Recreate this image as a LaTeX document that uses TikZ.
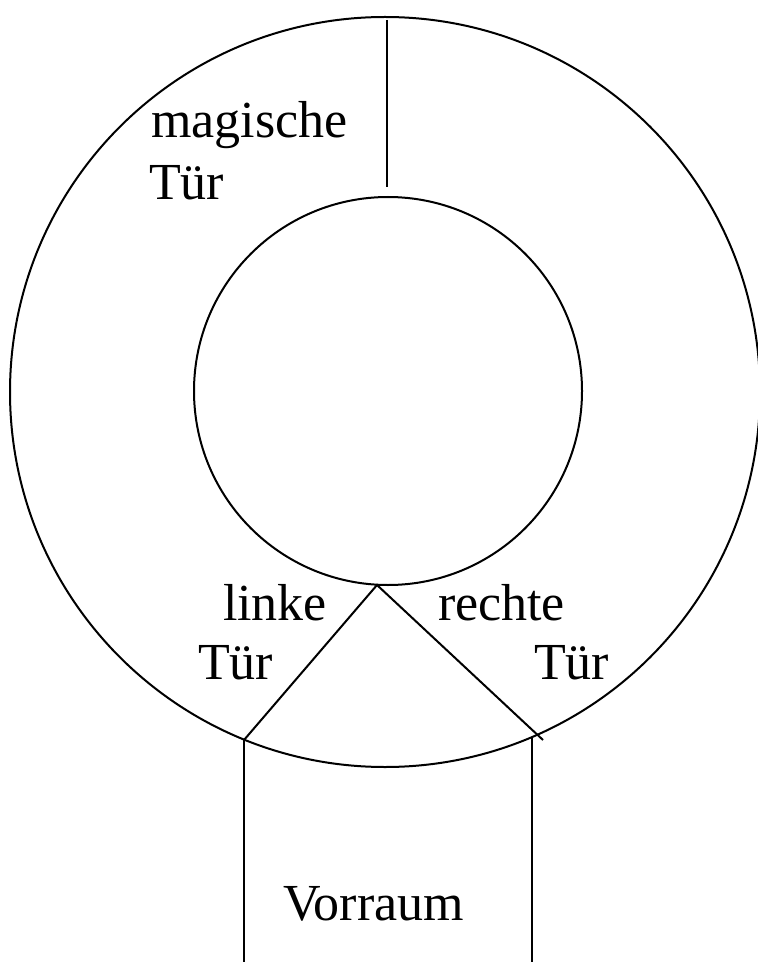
\documentclass[tikz,border=0pt]{standalone}
\usepackage{fontspec}
\setmainfont{Liberation Serif}
\usepackage{tikz}
\usetikzlibrary{calc}

\begin{document}
\begin{tikzpicture}[x=0.5pt, y=-0.5pt, line width=1pt,
  label/.style={anchor=base west, inner sep=0pt, font=\fontsize{26}{29}\selectfont}]
\useasboundingbox (0,0) rectangle (757,962);

% Outer and inner ring
\draw (385,392) circle[radius=375];
\draw (388,391) circle[radius=194];

% Magic door (top)
\coordinate (magtop) at (387,20);
\coordinate (magbot) at (387,187);
\draw (magtop) -- (magbot);

% Doors to the hall
\coordinate (apex) at (377,585);
\coordinate (ldoor) at (244,740);
\coordinate (rdoor) at (543,740);
\draw (ldoor) -- (apex) -- (rdoor);

% Walls of the hall
\coordinate (lwall) at (244,962);
\coordinate (rtop) at (532,738);
\coordinate (rwall) at (532,962);
\draw (ldoor) -- (lwall);
\draw (rtop) -- (rwall);

% Labels
\node[label] (mag1) at (150,138) {magische};
\node[label] (mag2) at (148,200) {Tür};
\node[label] (lnk1) at (222,620) {linke};
\node[label] (lnk2) at (197,679) {Tür};
\node[label] (rec1) at (437,620) {rechte};
\node[label] (rec2) at (533,679) {Tür};
\node[label] (vor) at (282,920) {Vorraum};
\end{tikzpicture}
\end{document}
